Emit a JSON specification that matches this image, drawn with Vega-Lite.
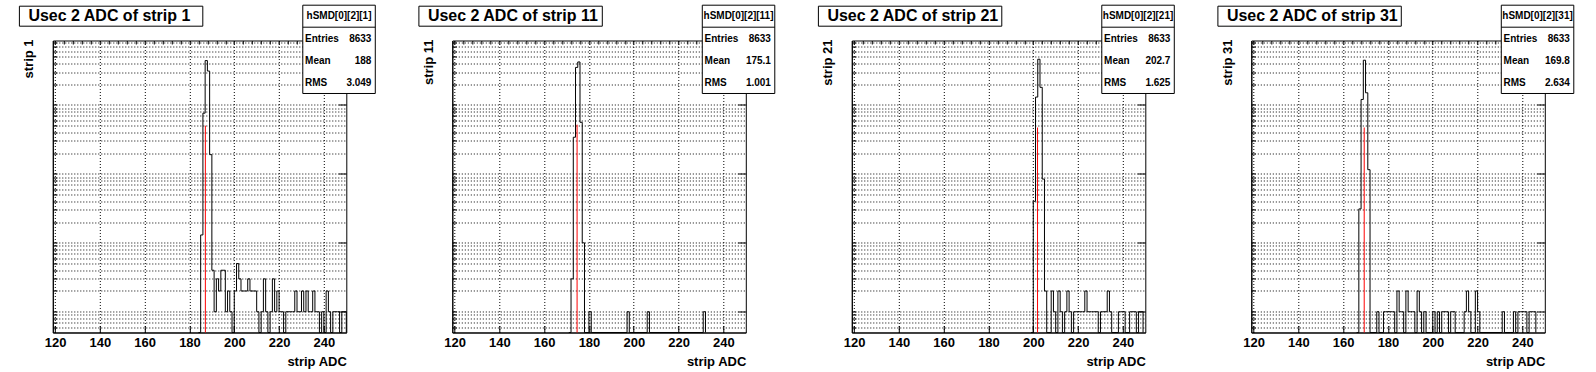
{
  "$schema": "https://vega.github.io/schema/vega-lite/v6.json",
  "padding": {"left": 17.8, "top": 3.5, "right": 0, "bottom": 0},
  "background": "white",
  "data": {
    "values": [
      {"s": 1, "title": "Usec 2 ADC of strip 1", "yt": "strip 1", "name": "hSMD[0][2][1]", "ent": "8633", "mean": "188", "rms": "3.049", "ref": 187.1, "refh": 500},
      {"s": 11, "title": "Usec 2 ADC of strip 11", "yt": "strip 11", "name": "hSMD[0][2][11]", "ent": "8633", "mean": "175.1", "rms": "1.001", "ref": 174.7, "refh": 517},
      {"s": 21, "title": "Usec 2 ADC of strip 21", "yt": "strip 21", "name": "hSMD[0][2][21]", "ent": "8633", "mean": "202.7", "rms": "1.625", "ref": 201.9, "refh": 470},
      {"s": 31, "title": "Usec 2 ADC of strip 31", "yt": "strip 31", "name": "hSMD[0][2][31]", "ent": "8633", "mean": "169.8", "rms": "2.634", "ref": 169.4, "refh": 470},

      {"s": 1, "adc": 184, "n": 0}, {"s": 1, "adc": 185, "n": 13}, {"s": 1, "adc": 186, "n": 760}, {"s": 1, "adc": 187, "n": 4400},
      {"s": 1, "adc": 188, "n": 3100}, {"s": 1, "adc": 189, "n": 190}, {"s": 1, "adc": 190, "n": 4}, {"s": 1, "adc": 191, "n": 1},
      {"s": 1, "adc": 192, "n": 3}, {"s": 1, "adc": 193, "n": 2}, {"s": 1, "adc": 194, "n": 4}, {"s": 1, "adc": 195, "n": 4},
      {"s": 1, "adc": 196, "n": 1}, {"s": 1, "adc": 197, "n": 2}, {"s": 1, "adc": 198, "n": 1}, {"s": 1, "adc": 199, "n": 0},
      {"s": 1, "adc": 200, "n": 2}, {"s": 1, "adc": 201, "n": 5}, {"s": 1, "adc": 202, "n": 3}, {"s": 1, "adc": 203, "n": 2},
      {"s": 1, "adc": 204, "n": 2}, {"s": 1, "adc": 205, "n": 2}, {"s": 1, "adc": 206, "n": 3}, {"s": 1, "adc": 207, "n": 2},
      {"s": 1, "adc": 208, "n": 2}, {"s": 1, "adc": 209, "n": 2}, {"s": 1, "adc": 210, "n": 1}, {"s": 1, "adc": 211, "n": 0},
      {"s": 1, "adc": 212, "n": 1}, {"s": 1, "adc": 213, "n": 3}, {"s": 1, "adc": 214, "n": 1}, {"s": 1, "adc": 215, "n": 0},
      {"s": 1, "adc": 216, "n": 1}, {"s": 1, "adc": 217, "n": 3}, {"s": 1, "adc": 218, "n": 1}, {"s": 1, "adc": 219, "n": 2},
      {"s": 1, "adc": 220, "n": 1}, {"s": 1, "adc": 221, "n": 1}, {"s": 1, "adc": 222, "n": 0}, {"s": 1, "adc": 223, "n": 1},
      {"s": 1, "adc": 224, "n": 1}, {"s": 1, "adc": 225, "n": 1}, {"s": 1, "adc": 226, "n": 1}, {"s": 1, "adc": 227, "n": 2},
      {"s": 1, "adc": 228, "n": 1}, {"s": 1, "adc": 229, "n": 1}, {"s": 1, "adc": 230, "n": 2}, {"s": 1, "adc": 231, "n": 1},
      {"s": 1, "adc": 232, "n": 2}, {"s": 1, "adc": 233, "n": 1}, {"s": 1, "adc": 234, "n": 1}, {"s": 1, "adc": 235, "n": 2},
      {"s": 1, "adc": 236, "n": 1}, {"s": 1, "adc": 237, "n": 1}, {"s": 1, "adc": 238, "n": 0}, {"s": 1, "adc": 239, "n": 1},
      {"s": 1, "adc": 240, "n": 0}, {"s": 1, "adc": 241, "n": 2}, {"s": 1, "adc": 242, "n": 1}, {"s": 1, "adc": 243, "n": 0},
      {"s": 1, "adc": 244, "n": 1}, {"s": 1, "adc": 245, "n": 1}, {"s": 1, "adc": 246, "n": 1}, {"s": 1, "adc": 247, "n": 0},
      {"s": 1, "adc": 248, "n": 1}, {"s": 1, "adc": 249, "n": 1}, {"s": 1, "adc": 250, "n": 0},

      {"s": 11, "adc": 171, "n": 0}, {"s": 11, "adc": 172, "n": 3}, {"s": 11, "adc": 173, "n": 340}, {"s": 11, "adc": 174, "n": 3500},
      {"s": 11, "adc": 175, "n": 4200}, {"s": 11, "adc": 176, "n": 560}, {"s": 11, "adc": 177, "n": 10}, {"s": 11, "adc": 178, "n": 0},
      {"s": 11, "adc": 180, "n": 1}, {"s": 11, "adc": 181, "n": 0}, {"s": 11, "adc": 197, "n": 1}, {"s": 11, "adc": 198, "n": 0},
      {"s": 11, "adc": 206, "n": 1}, {"s": 11, "adc": 207, "n": 0}, {"s": 11, "adc": 231, "n": 1}, {"s": 11, "adc": 232, "n": 0},

      {"s": 21, "adc": 199, "n": 0}, {"s": 21, "adc": 200, "n": 40}, {"s": 21, "adc": 201, "n": 1300}, {"s": 21, "adc": 202, "n": 4600},
      {"s": 21, "adc": 203, "n": 1800}, {"s": 21, "adc": 204, "n": 84}, {"s": 21, "adc": 205, "n": 2}, {"s": 21, "adc": 206, "n": 0},
      {"s": 21, "adc": 208, "n": 2}, {"s": 21, "adc": 209, "n": 1}, {"s": 21, "adc": 210, "n": 0}, {"s": 21, "adc": 211, "n": 2},
      {"s": 21, "adc": 212, "n": 1}, {"s": 21, "adc": 213, "n": 0}, {"s": 21, "adc": 214, "n": 1}, {"s": 21, "adc": 215, "n": 2},
      {"s": 21, "adc": 216, "n": 1}, {"s": 21, "adc": 217, "n": 0}, {"s": 21, "adc": 218, "n": 1}, {"s": 21, "adc": 219, "n": 1},
      {"s": 21, "adc": 220, "n": 1}, {"s": 21, "adc": 221, "n": 1}, {"s": 21, "adc": 222, "n": 1}, {"s": 21, "adc": 223, "n": 2},
      {"s": 21, "adc": 224, "n": 1}, {"s": 21, "adc": 225, "n": 1}, {"s": 21, "adc": 226, "n": 1}, {"s": 21, "adc": 227, "n": 1},
      {"s": 21, "adc": 228, "n": 1}, {"s": 21, "adc": 229, "n": 0}, {"s": 21, "adc": 230, "n": 1}, {"s": 21, "adc": 231, "n": 1},
      {"s": 21, "adc": 232, "n": 1}, {"s": 21, "adc": 233, "n": 2}, {"s": 21, "adc": 234, "n": 1}, {"s": 21, "adc": 235, "n": 0},
      {"s": 21, "adc": 238, "n": 1}, {"s": 21, "adc": 239, "n": 1}, {"s": 21, "adc": 240, "n": 1}, {"s": 21, "adc": 241, "n": 0},
      {"s": 21, "adc": 243, "n": 1}, {"s": 21, "adc": 244, "n": 1}, {"s": 21, "adc": 245, "n": 1}, {"s": 21, "adc": 246, "n": 0},
      {"s": 21, "adc": 247, "n": 1}, {"s": 21, "adc": 248, "n": 1}, {"s": 21, "adc": 249, "n": 0},

      {"s": 31, "adc": 166, "n": 0}, {"s": 31, "adc": 167, "n": 31}, {"s": 31, "adc": 168, "n": 1200}, {"s": 31, "adc": 169, "n": 4450},
      {"s": 31, "adc": 170, "n": 1500}, {"s": 31, "adc": 171, "n": 115}, {"s": 31, "adc": 172, "n": 0}, {"s": 31, "adc": 175, "n": 1},
      {"s": 31, "adc": 176, "n": 0}, {"s": 31, "adc": 178, "n": 1}, {"s": 31, "adc": 179, "n": 1}, {"s": 31, "adc": 180, "n": 1},
      {"s": 31, "adc": 181, "n": 1}, {"s": 31, "adc": 182, "n": 1}, {"s": 31, "adc": 183, "n": 0}, {"s": 31, "adc": 184, "n": 2},
      {"s": 31, "adc": 185, "n": 1}, {"s": 31, "adc": 186, "n": 1}, {"s": 31, "adc": 187, "n": 0}, {"s": 31, "adc": 188, "n": 2},
      {"s": 31, "adc": 189, "n": 1}, {"s": 31, "adc": 190, "n": 1}, {"s": 31, "adc": 191, "n": 1}, {"s": 31, "adc": 192, "n": 0},
      {"s": 31, "adc": 193, "n": 2}, {"s": 31, "adc": 194, "n": 1}, {"s": 31, "adc": 195, "n": 0}, {"s": 31, "adc": 196, "n": 1},
      {"s": 31, "adc": 197, "n": 0}, {"s": 31, "adc": 200, "n": 1}, {"s": 31, "adc": 201, "n": 0}, {"s": 31, "adc": 202, "n": 1},
      {"s": 31, "adc": 203, "n": 0}, {"s": 31, "adc": 204, "n": 1}, {"s": 31, "adc": 205, "n": 1}, {"s": 31, "adc": 206, "n": 1},
      {"s": 31, "adc": 207, "n": 0}, {"s": 31, "adc": 208, "n": 1}, {"s": 31, "adc": 209, "n": 1}, {"s": 31, "adc": 210, "n": 0},
      {"s": 31, "adc": 214, "n": 1}, {"s": 31, "adc": 215, "n": 2}, {"s": 31, "adc": 216, "n": 1}, {"s": 31, "adc": 217, "n": 0},
      {"s": 31, "adc": 219, "n": 2}, {"s": 31, "adc": 220, "n": 1}, {"s": 31, "adc": 221, "n": 0}, {"s": 31, "adc": 231, "n": 1},
      {"s": 31, "adc": 232, "n": 0}, {"s": 31, "adc": 236, "n": 1}, {"s": 31, "adc": 237, "n": 0}, {"s": 31, "adc": 238, "n": 1},
      {"s": 31, "adc": 239, "n": 1}, {"s": 31, "adc": 240, "n": 1}, {"s": 31, "adc": 241, "n": 1}, {"s": 31, "adc": 242, "n": 0},
      {"s": 31, "adc": 243, "n": 1}, {"s": 31, "adc": 244, "n": 1}, {"s": 31, "adc": 245, "n": 1}, {"s": 31, "adc": 246, "n": 0}
    ]
  },
  "facet": {"column": {"field": "s", "type": "ordinal", "header": null}},
  "spacing": 105.5,
  "bounds": "flush",
  "resolve": {"axis": {"y": "independent"}},
  "spec": {
    "width": 293.5,
    "height": 292,
    "resolve": {"scale": {"y": "independent"}},
    "layer": [
      {
        "resolve": {"axis": {"x": "independent", "y": "independent"}},
        "layer": [
          {
            "transform": [{"filter": "isValid(datum.n)"}],
            "mark": {"type": "line", "interpolate": "step-after", "color": "black", "strokeWidth": 1},
            "encoding": {
              "x": {
                "field": "adc", "type": "quantitative",
                "scale": {"domain": [119, 250], "nice": false, "zero": false},
                "axis": {
                  "title": "strip ADC",
                  "values": [120, 140, 160, 180, 200, 220, 240],
                  "labelOverlap": false,
                  "labelFlush": false,
                  "tickSize": -7,
                  "labelPadding": 11,
                  "labelFontSize": 13,
                  "labelFontWeight": "bold",
                  "titleFontSize": 13,
                  "titleFontWeight": "bold",
                  "titleAnchor": "end",
                  "titlePadding": 6
                }
              },
              "y": {
                "field": "n", "type": "quantitative",
                "scale": {"type": "log", "domain": [0.5, 8600], "nice": false, "clamp": true},
                "axis": {
                  "title": null,
                  "labels": false,
                  "values": [0.6,0.7,0.8,0.9,1,2,3,4,5,6,7,8,9,10,20,30,40,50,60,70,80,90,100,200,300,400,500,600,700,800,900,1000,2000,3000,4000,5000,6000,7000,8000],
                  "tickSize": -4
                }
              }
            }
          },
          {
            "transform": [{"filter": "isValid(datum.title)"}],
            "mark": {"type": "rule", "color": "#ff0000", "strokeWidth": 1},
            "encoding": {
              "x": {
                "field": "ref", "type": "quantitative",
                "axis": {
                  "title": null, "labels": false, "grid": false, "domain": false,
                  "values": [120,124,128,132,136,140,144,148,152,156,160,164,168,172,176,180,184,188,192,196,200,204,208,212,216,220,224,228,232,236,240,244,248],
                  "tickSize": -3.5
                }
              },
              "y": {
                "field": "refh", "type": "quantitative",
                "axis": {"title": null, "labels": false, "grid": false, "domain": false, "values": [1, 10, 100, 1000], "tickSize": -8}
              },
              "y2": {"datum": 0.5}
            }
          }
        ]
      },
      {
        "transform": [{"filter": "isValid(datum.title)"}],
        "layer": [
          {
            "mark": {"type": "rect", "fill": "white", "stroke": "black", "strokeWidth": 1},
            "encoding": {
              "x": {"datum": 104.09, "type": "quantitative", "axis": null},
              "x2": {"datum": 185.95},
              "y": {"datum": 27040, "type": "quantitative", "scale": {"type": "log", "domain": [0.5, 8600], "nice": false}, "axis": null},
              "y2": {"datum": 13865}
            }
          },
          {
            "mark": {"type": "text", "align": "left", "baseline": "middle", "fontSize": 16, "fontWeight": "bold", "color": "black"},
            "encoding": {
              "x": {"datum": 108.11, "type": "quantitative", "axis": null},
              "y": {"datum": 19365, "type": "quantitative", "scale": {"type": "log", "domain": [0.5, 8600], "nice": false}, "axis": null},
              "text": {"field": "title"}
            }
          },
          {
            "mark": {"type": "text", "align": "right", "baseline": "middle", "angle": 270, "fontSize": 13, "fontWeight": "bold", "color": "black"},
            "encoding": {
              "x": {"datum": 108.42, "type": "quantitative", "axis": null},
              "y": {"datum": 8895, "type": "quantitative", "scale": {"type": "log", "domain": [0.5, 8600], "nice": false}, "axis": null},
              "text": {"field": "yt"}
            }
          },
          {
            "mark": {"type": "rect", "fill": "white", "stroke": "black", "strokeWidth": 1},
            "encoding": {
              "x": {"datum": 230.58, "type": "quantitative", "axis": null},
              "x2": {"datum": 262.94},
              "y": {"datum": 27965, "type": "quantitative", "scale": {"type": "log", "domain": [0.5, 8600], "nice": false}, "axis": null},
              "y2": {"datum": 1465}
            }
          },
          {
            "mark": {"type": "rule", "color": "black", "strokeWidth": 1},
            "encoding": {
              "x": {"datum": 230.58, "type": "quantitative", "axis": null},
              "x2": {"datum": 262.94},
              "y": {"datum": 13410, "type": "quantitative", "scale": {"type": "log", "domain": [0.5, 8600], "nice": false}, "axis": null}
            }
          },
          {
            "mark": {"type": "text", "align": "center", "baseline": "middle", "fontSize": 10, "fontWeight": "bold", "color": "black"},
            "encoding": {
              "x": {"datum": 246.76, "type": "quantitative", "axis": null},
              "y": {"datum": 19365, "type": "quantitative", "scale": {"type": "log", "domain": [0.5, 8600], "nice": false}, "axis": null},
              "text": {"field": "name"}
            }
          },
          {
            "mark": {"type": "text", "align": "left", "baseline": "middle", "fontSize": 10, "fontWeight": "bold", "color": "black"},
            "encoding": {
              "x": {"datum": 231.6, "type": "quantitative", "axis": null},
              "y": {"datum": 9075, "type": "quantitative", "scale": {"type": "log", "domain": [0.5, 8600], "nice": false}, "axis": null},
              "text": {"value": "Entries"}
            }
          },
          {
            "mark": {"type": "text", "align": "left", "baseline": "middle", "fontSize": 10, "fontWeight": "bold", "color": "black"},
            "encoding": {
              "x": {"datum": 231.6, "type": "quantitative", "axis": null},
              "y": {"datum": 4308, "type": "quantitative", "scale": {"type": "log", "domain": [0.5, 8600], "nice": false}, "axis": null},
              "text": {"value": "Mean"}
            }
          },
          {
            "mark": {"type": "text", "align": "left", "baseline": "middle", "fontSize": 10, "fontWeight": "bold", "color": "black"},
            "encoding": {
              "x": {"datum": 231.6, "type": "quantitative", "axis": null},
              "y": {"datum": 2087, "type": "quantitative", "scale": {"type": "log", "domain": [0.5, 8600], "nice": false}, "axis": null},
              "text": {"value": "RMS"}
            }
          },
          {
            "mark": {"type": "text", "align": "right", "baseline": "middle", "fontSize": 10, "fontWeight": "bold", "color": "black"},
            "encoding": {
              "x": {"datum": 261.2, "type": "quantitative", "axis": null},
              "y": {"datum": 9075, "type": "quantitative", "scale": {"type": "log", "domain": [0.5, 8600], "nice": false}, "axis": null},
              "text": {"field": "ent"}
            }
          },
          {
            "mark": {"type": "text", "align": "right", "baseline": "middle", "fontSize": 10, "fontWeight": "bold", "color": "black"},
            "encoding": {
              "x": {"datum": 261.2, "type": "quantitative", "axis": null},
              "y": {"datum": 4308, "type": "quantitative", "scale": {"type": "log", "domain": [0.5, 8600], "nice": false}, "axis": null},
              "text": {"field": "mean"}
            }
          },
          {
            "mark": {"type": "text", "align": "right", "baseline": "middle", "fontSize": 10, "fontWeight": "bold", "color": "black"},
            "encoding": {
              "x": {"datum": 261.2, "type": "quantitative", "axis": null},
              "y": {"datum": 2087, "type": "quantitative", "scale": {"type": "log", "domain": [0.5, 8600], "nice": false}, "axis": null},
              "text": {"field": "rms"}
            }
          }
        ]
      }
    ]
  },
  "config": {
    "font": "Liberation Sans",
    "view": {"stroke": "black", "strokeWidth": 1},
    "axis": {
      "domainColor": "black",
      "tickColor": "black",
      "labelColor": "black",
      "titleColor": "black",
      "grid": true,
      "gridColor": "black",
      "gridDash": [1, 2],
      "gridOpacity": 1,
      "gridWidth": 1,
      "labelFont": "Liberation Sans",
      "titleFont": "Liberation Sans"
    }
  }
}
